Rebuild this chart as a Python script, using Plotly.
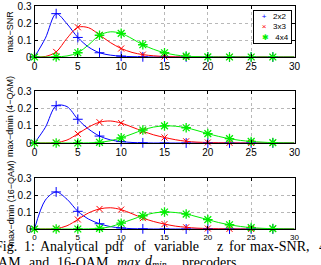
import plotly.graph_objects as go
from plotly.subplots import make_subplots

# ---------------- data ----------------
z = [0, 1.25, 2.5, 3.75, 5, 6.25, 7.5, 8.75, 10, 11.25, 12.5, 13.75, 15,
     16.25, 17.5, 18.75, 20, 21.25, 22.5, 23.75, 25, 26.25, 27.5, 28.75, 30]

series_names = ["2x2", "3x3", "4x4"]

snr_2x2 = [0, 0.11, 0.255, 0.195, 0.115, 0.058, 0.025, 0.011, 0.005, 0.002, 0.001,
           0, 0, 0, 0, 0, 0, 0, 0, 0, 0, 0, 0, 0, 0]
snr_3x3 = [0, 0.003, 0.03, 0.11, 0.175, 0.172, 0.13, 0.085, 0.05, 0.027, 0.014, 0.007,
           0.003, 0.001, 0, 0, 0, 0, 0, 0, 0, 0, 0, 0, 0]
snr_4x4 = [0, 0, 0.001, 0.006, 0.025, 0.072, 0.128, 0.148, 0.139, 0.108, 0.072, 0.045,
           0.025, 0.012, 0.005, 0.002, 0.001, 0, 0, 0, 0, 0, 0, 0, 0]

qam4_2x2 = [0, 0.09, 0.215, 0.21, 0.137, 0.08, 0.04, 0.018, 0.008, 0.003, 0.001,
            0, 0, 0, 0, 0, 0, 0, 0, 0, 0, 0, 0, 0, 0]
qam4_3x3 = [0, 0, 0.002, 0.017, 0.053, 0.092, 0.12, 0.127, 0.115, 0.092, 0.068, 0.047,
            0.032, 0.019, 0.01, 0.005, 0.003, 0.001, 0.001, 0, 0, 0, 0, 0, 0]
qam4_4x4 = [0, 0, 0, 0, 0, 0.001, 0.004, 0.013, 0.03, 0.052, 0.075, 0.092, 0.099,
            0.097, 0.088, 0.072, 0.054, 0.038, 0.025, 0.015, 0.009, 0.005, 0.002, 0.001, 0]

qam16_2x2 = [0, 0.17, 0.218, 0.175, 0.104, 0.058, 0.031, 0.014, 0.006, 0.002, 0.001,
             0, 0, 0, 0, 0, 0, 0, 0, 0, 0, 0, 0, 0, 0]
qam16_3x3 = [0, 0, 0.002, 0.019, 0.056, 0.095, 0.118, 0.125, 0.114, 0.09, 0.064, 0.044,
             0.029, 0.017, 0.01, 0.005, 0.003, 0.001, 0.001, 0, 0, 0, 0, 0, 0]
qam16_4x4 = [0, 0, 0, 0, 0, 0.001, 0.004, 0.013, 0.034, 0.056, 0.078, 0.094, 0.1,
             0.097, 0.088, 0.072, 0.055, 0.038, 0.025, 0.015, 0.008, 0.004, 0.002, 0.001, 0]

panel_titles = ["max\u2212SNR", "max\u2212dmin (4\u2212QAM)", "max\u2212dmin (16\u2212QAM)"]
panels = [[snr_2x2, snr_3x3, snr_4x4],
          [qam4_2x2, qam4_3x3, qam4_4x4],
          [qam16_2x2, qam16_3x3, qam16_4x4]]

x_ticks = [0, 5, 10, 15, 20, 25, 30]
y_ticks = [0, 0.1, 0.2, 0.3]
y_ticklabels = ["0", "0.1", "0.2", "0.3"]

# ---------------- layout helpers ----------------
W, H = 321, 265
def px_x(p): return p / W
def px_y(p): return 1 - p / H

colors = ["#0000ff", "#ff0000", "#00ee00"]
symbols = ["cross-thin", "x-thin", "asterisk"]
msizes = [7, 6, 8]
mwidths = [1, 1, 1.3]

# plot areas in pixels (top, bottom)
rows_px = [(6, 57), (91, 143), (178, 229)]
x_left, x_right = 34.5, 294.5
x_tick_sizes = [10, 10, 8]

fig = make_subplots(rows=3, cols=1)
sans = "Liberation Sans, Arial, Helvetica, sans-serif"

for r, data in enumerate(panels, start=1):
    for k, yv in enumerate(data):
        fig.add_trace(go.Scatter(
            x=z, y=yv, mode="lines", line=dict(color=colors[k], width=1, shape="spline", smoothing=0.9),
            showlegend=False, hoverinfo="skip"), row=r, col=1)
    for k, yv in enumerate(data):
        fig.add_trace(go.Scatter(
            x=z[0:23:2], y=yv[0:23:2], mode="markers", name=series_names[k],
            marker=dict(symbol=symbols[k], size=msizes[k], color=colors[k],
                        line=dict(color=colors[k], width=mwidths[k])),
            cliponaxis=False, showlegend=False), row=r, col=1)

for r in range(1, 4):
    top, bot = rows_px[r - 1]
    fig.update_xaxes(row=r, col=1, domain=[px_x(x_left), px_x(x_right)], range=[0, 30],
                     tickvals=x_ticks, ticks="inside", ticklen=3, tickcolor="black",
                     showline=True, linecolor="black", linewidth=1, mirror="ticks",
                     showgrid=True, gridcolor="#b8b8b8", griddash="dot", gridwidth=1,
                     zeroline=False,
                     tickfont=dict(family=sans, size=x_tick_sizes[r - 1], color="black"))
    fig.update_yaxes(row=r, col=1, domain=[px_y(bot), px_y(top)], range=[0, 0.3],
                     tickvals=y_ticks, ticktext=y_ticklabels, ticks="inside", ticklen=3,
                     tickcolor="black", showline=True, linecolor="black", linewidth=1,
                     mirror="ticks", showgrid=True, gridcolor="#b8b8b8", griddash="dot",
                     gridwidth=1, zeroline=False,
                     tickfont=dict(family=sans, size=10, color="black"))

annotations = []
for r in range(3):
    top, bot = rows_px[r]
    annotations.append(dict(text=panel_titles[r], xref="paper", yref="paper",
                            x=px_x(10), y=px_y((top + bot) / 2), textangle=-90,
                            showarrow=False, xanchor="center", yanchor="middle",
                            font=dict(family=sans, size=9, color="black")))

# legend box (as annotation)
nb = "\u00a0"
leg_syms = ["+", "\u00d7", "\u2731"]
leg_lines = []
for k in range(3):
    leg_lines.append(nb * 3 + "<span style='color:%s'>%s</span>" % (colors[k], leg_syms[k])
                     + nb * 3 + series_names[k] + nb)
annotations.append(dict(text="<br>".join(leg_lines), xref="paper", yref="paper",
                        x=px_x(292), y=px_y(10), xanchor="right", yanchor="top",
                        align="left", showarrow=False, bgcolor="white",
                        bordercolor="black", borderwidth=1, borderpad=1,
                        font=dict(family=sans, size=8, color="black")))

# caption (cropped figure caption)
serif = "Liberation Serif, Times New Roman, serif"
line1_words = ["Fig.", "1:", "Analytical", "pdf", "of", "variable", "z", "for", "max-SNR,", "4-"]
line1_x = [-7, 22, 38, 103, 132, 152, 215, 227, 248, 317]
for w, xp in zip(line1_words, line1_x):
    annotations.append(dict(text=w, xref="paper", yref="paper", x=px_x(xp), y=px_y(256),
                            xanchor="left", yanchor="bottom", showarrow=False,
                            font=dict(family=serif, size=14, color="black")))
line2_words = ["QAM", "and", "16-QAM", "<i>max</i>", "<i>d</i><sub><i>min</i></sub>", "precoders"]
line2_x = [-14, 27, 55, 115, 143, 180]
for w, xp in zip(line2_words, line2_x):
    annotations.append(dict(text=w, xref="paper", yref="paper", x=px_x(xp), y=px_y(272),
                            xanchor="left", yanchor="bottom", showarrow=False,
                            font=dict(family=serif, size=14, color="black")))

fig.update_layout(width=W, height=H, margin=dict(l=0, r=0, t=0, b=0, autoexpand=False),
                  autosize=False, plot_bgcolor="white", paper_bgcolor="white",
                  showlegend=False, annotations=annotations)

fig.write_html("out.html")
